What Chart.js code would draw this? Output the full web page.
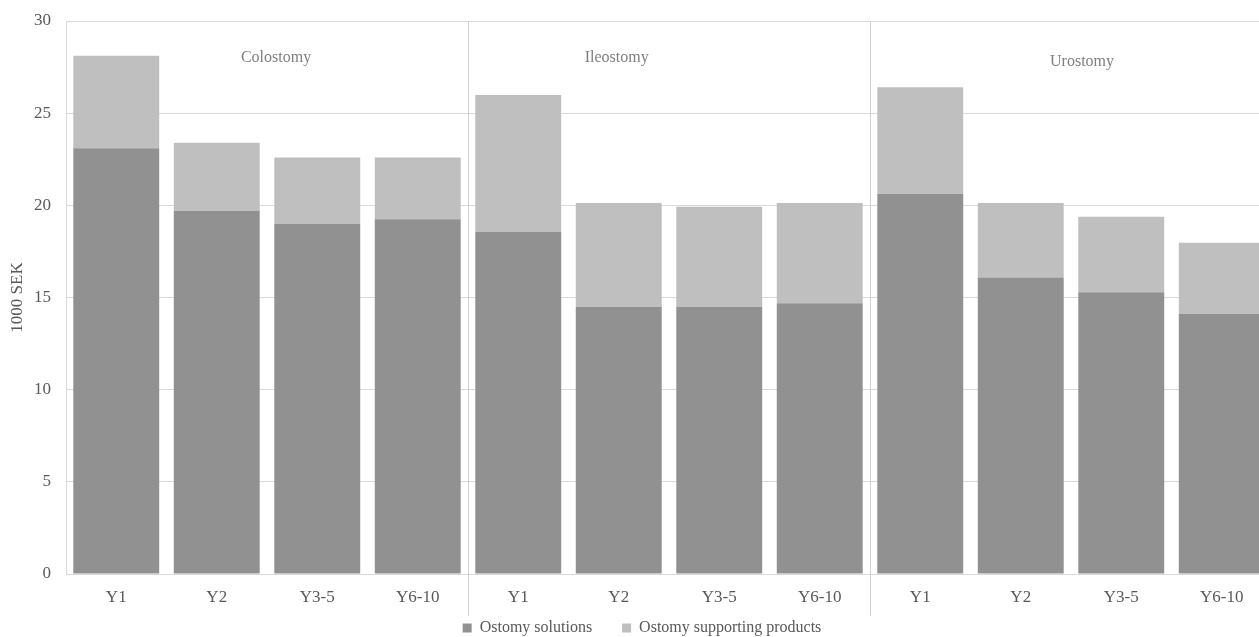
<!DOCTYPE html>
<html>
<head>
<meta charset="utf-8">
<script src="https://cdn.jsdelivr.net/npm/chart.js@4.4.1/dist/chart.umd.min.js"></script>
<style>
  html, body { margin: 0; padding: 0; background: #ffffff; overflow: hidden; }
  #wrap { width: 1272px; height: 637px; position: relative; }
</style>
</head>
<body>
<div id="wrap"><canvas id="c"></canvas></div>
<script>
// Period since surgery, repeated for each ostomy type
const periods = ['Y1', 'Y2', 'Y3-5', 'Y6-10', 'Y1', 'Y2', 'Y3-5', 'Y6-10', 'Y1', 'Y2', 'Y3-5', 'Y6-10'];

// Ostomy types and where their headings sit (category position, value position)
const groups = ['Colostomy', 'Ileostomy', 'Urostomy'];
const groupSize = 4;
const groupLabelAt = [1.59, 4.98, 9.61];
const groupLabelY = [28.0, 28.0, 27.8];

// Annual cost, 1000 SEK
const ostomySolutions = [23.1, 19.7, 19.0, 19.25, 18.57, 14.48, 14.48, 14.69, 20.61, 16.09, 15.29, 14.1];
const supportingProducts = [5.02, 3.7, 3.6, 3.35, 7.41, 5.64, 5.44, 5.43, 5.79, 4.03, 4.09, 3.87];

// Value axis
const yMin = 0;
const yMax = 30;
const yStep = 5;

const FONT = "'Liberation Serif', 'Times New Roman', serif";

// Vertical separators between ostomy types, plus the type headings
const groupPlugin = {
  id: 'groupPlugin',
  afterLayout(chart) {
    // the category labels hang below the compact axis box; widen its drawing region
    const x = chart.scales.x;
    x.bottom = x.top + 40;
    x.height = 40;
  },
  afterDatasetsDraw(chart) {
    const { ctx, chartArea, scales: { x, y } } = chart;
    ctx.save();
    ctx.strokeStyle = '#d0d0d0';
    ctx.lineWidth = 1;
    for (let g = 1; g < groups.length; g++) {
      const i = g * groupSize;
      const px = Math.round((x.getPixelForValue(i - 1) + x.getPixelForValue(i)) / 2) + 0.5;
      ctx.beginPath();
      ctx.moveTo(px, chartArea.top);
      ctx.lineTo(px, chartArea.bottom + 42);
      ctx.stroke();
    }
    ctx.fillStyle = '#7f7f7f';
    ctx.font = '16px ' + FONT;
    ctx.textAlign = 'center';
    ctx.textBaseline = 'middle';
    groups.forEach((name, g) => {
      ctx.fillText(name, x.getPixelForValue(groupLabelAt[g]), y.getPixelForValue(groupLabelY[g]));
    });
    ctx.restore();
  }
};

new Chart(document.getElementById('c'), {
  type: 'bar',
  data: {
    labels: periods,
    datasets: [
      {
        label: 'Ostomy solutions',
        data: ostomySolutions,
        backgroundColor: '#919191',
        barPercentage: 0.855,
        categoryPercentage: 1.0
      },
      {
        label: 'Ostomy supporting products',
        data: supportingProducts,
        backgroundColor: '#bfbfbf',
        barPercentage: 0.855,
        categoryPercentage: 1.0
      }
    ]
  },
  options: {
    responsive: true,
    maintainAspectRatio: false,
    animation: false,
    layout: { padding: { top: 21, right: 0, bottom: -9, left: 12 } },
    plugins: {
      tooltip: { enabled: false },
      legend: {
        position: 'bottom',
        labels: {
          font: { family: FONT, size: 16 },
          color: '#595959',
          boxWidth: 9,
          boxHeight: 9,
          padding: 30
        }
      }
    },
    scales: {
      x: {
        stacked: true,
        afterFit(scale) { scale.height = 16; },
        grid: { display: false, drawTicks: false },
        border: { display: false },
        ticks: {
          font: { family: FONT, size: 17 },
          color: '#595959',
          padding: 13.5,
          maxRotation: 0,
          autoSkip: false
        }
      },
      y: {
        stacked: true,
        min: yMin,
        max: yMax,
        afterFit(scale) { scale.width = 54; },
        ticks: {
          stepSize: yStep,
          font: { family: FONT, size: 17 },
          color: '#595959',
          padding: 5
        },
        grid: { color: '#d9d9d9', drawTicks: true, tickLength: 10, tickColor: 'rgba(0,0,0,0)' },
        border: { display: true, color: '#d9d9d9' },
        title: {
          display: true,
          text: '1000 SEK',
          font: { family: FONT, size: 17 },
          color: '#595959',
          padding: { top: -5, bottom: 0 }
        }
      }
    }
  },
  plugins: [groupPlugin]
});
</script>
</body>
</html>
